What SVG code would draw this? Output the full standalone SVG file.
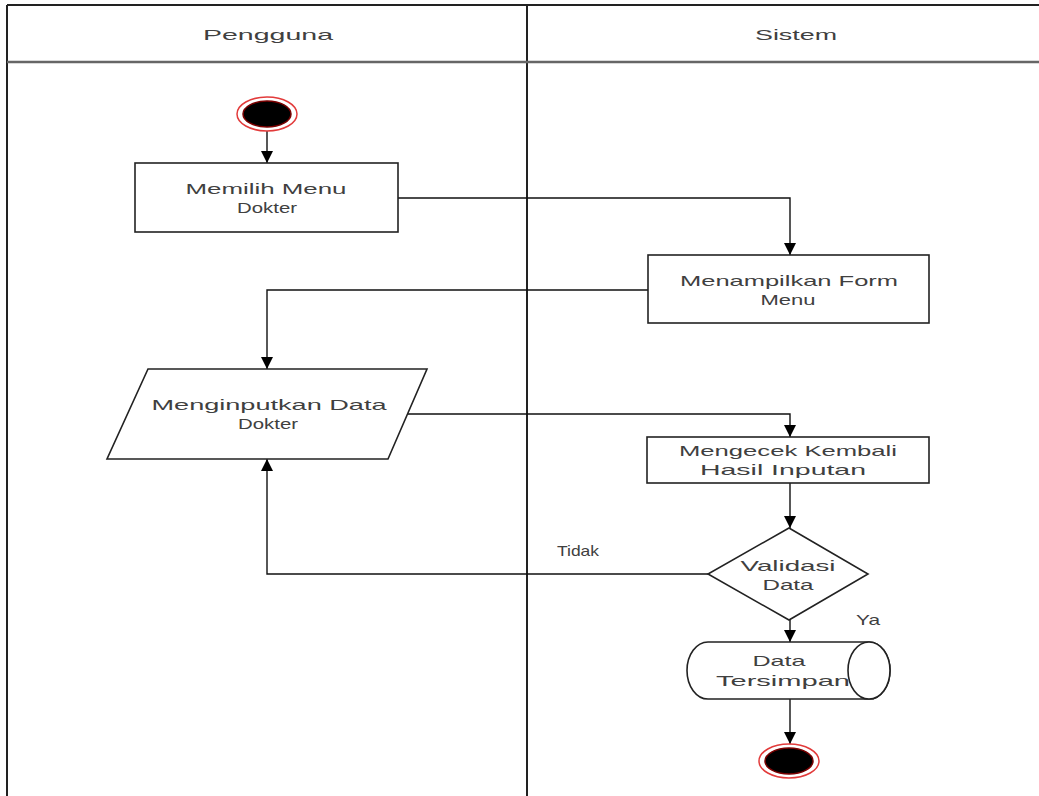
<svg xmlns="http://www.w3.org/2000/svg" width="1039" height="796" viewBox="0 0 1039 796">
<style>
text{font-family:"Liberation Sans",Arial,sans-serif;font-size:15px;fill:#404040;text-anchor:middle}
.frame{stroke:#222;stroke-width:2;fill:none}
.hdr{stroke:#666;stroke-width:2.5;fill:none}
.box{fill:#fff;stroke:#222;stroke-width:1.6}
.conn{fill:none;stroke:#111;stroke-width:1.4}
.ring{fill:#fff;stroke:#e23b3b;stroke-width:1.5}
.dot{fill:#000;stroke:#7a0000;stroke-width:1.5}
</style>
<defs>
<marker id="arr" markerUnits="userSpaceOnUse" markerWidth="12" markerHeight="12" refX="10" refY="5" orient="auto" viewBox="0 0 10 10">
<path d="M0,0 L10,5 L0,10 Z" fill="#000"/>
</marker>
</defs>
<rect width="1039" height="796" fill="#fff"/>
<g id="swimlanes">
<line class="frame" x1="7" y1="5" x2="1039" y2="5"/>
<line class="frame" x1="7" y1="5" x2="7" y2="796"/>
<line class="frame" x1="527" y1="5" x2="527" y2="796"/>
<line class="hdr" x1="7" y1="62" x2="1039" y2="62"/>
<text x="268" y="40" textLength="130" lengthAdjust="spacingAndGlyphs">Pengguna</text>
<text x="796" y="40" textLength="82" lengthAdjust="spacingAndGlyphs">Sistem</text>
</g>
<g id="connectors">
<path class="conn" d="M267,130 V163" marker-end="url(#arr)"/>
<path class="conn" d="M398,198 H790 V255" marker-end="url(#arr)"/>
<path class="conn" d="M648,290 H267 V369" marker-end="url(#arr)"/>
<path class="conn" d="M408,414 H790 V437" marker-end="url(#arr)"/>
<path class="conn" d="M790,483 V528" marker-end="url(#arr)"/>
<path class="conn" d="M708,574 H267 V459" marker-end="url(#arr)"/>
<path class="conn" d="M790,620 V642" marker-end="url(#arr)"/>
<path class="conn" d="M790,699 V744" marker-end="url(#arr)"/>
<text x="578" y="556" textLength="42" lengthAdjust="spacingAndGlyphs">Tidak</text>
<text x="868" y="625" textLength="24" lengthAdjust="spacingAndGlyphs">Ya</text>
</g>
<g id="start">
<ellipse class="ring" cx="267" cy="114" rx="30" ry="17"/>
<ellipse class="dot" cx="267" cy="114" rx="24" ry="13"/>
</g>
<g id="memilih">
<rect class="box" x="135" y="163" width="263" height="69"/>
<text x="266" y="194" textLength="161" lengthAdjust="spacingAndGlyphs">Memilih Menu</text>
<text x="267" y="213" textLength="60" lengthAdjust="spacingAndGlyphs">Dokter</text>
</g>
<g id="menampilkan">
<rect class="box" x="648" y="255" width="281" height="68"/>
<text x="789" y="286" textLength="218" lengthAdjust="spacingAndGlyphs">Menampilkan Form</text>
<text x="788" y="305" textLength="55" lengthAdjust="spacingAndGlyphs">Menu</text>
</g>
<g id="menginputkan">
<polygon class="box" points="148,369 427,369 388,459 107,459"/>
<text x="269" y="410" textLength="235" lengthAdjust="spacingAndGlyphs">Menginputkan Data</text>
<text x="268" y="429" textLength="60" lengthAdjust="spacingAndGlyphs">Dokter</text>
</g>
<g id="mengecek">
<rect class="box" x="647" y="437" width="282" height="46"/>
<text x="788" y="456" textLength="218" lengthAdjust="spacingAndGlyphs">Mengecek Kembali</text>
<text x="783" y="475" textLength="166" lengthAdjust="spacingAndGlyphs">Hasil Inputan</text>
</g>
<g id="validasi">
<polygon class="box" points="789,528 868,574 789,620 708,574"/>
<text x="788" y="571" textLength="95" lengthAdjust="spacingAndGlyphs">Validasi</text>
<text x="788" y="590" textLength="51" lengthAdjust="spacingAndGlyphs">Data</text>
</g>
<g id="tersimpan">
<path class="box" stroke-width="2" d="M708,642 L869,642 A21,28.5 0 0 1 869,699 L708,699 A21,28.5 0 0 1 708,642 Z"/>
<ellipse class="box" stroke-width="2" cx="869" cy="670.5" rx="21" ry="28.5"/>
<text x="779" y="666" textLength="53" lengthAdjust="spacingAndGlyphs">Data</text>
<text x="783" y="686" textLength="134" lengthAdjust="spacingAndGlyphs">Tersimpan</text>
</g>
<g id="end">
<ellipse class="ring" cx="789" cy="761" rx="30" ry="17"/>
<ellipse class="dot" cx="789" cy="761" rx="24" ry="13"/>
</g>
</svg>
